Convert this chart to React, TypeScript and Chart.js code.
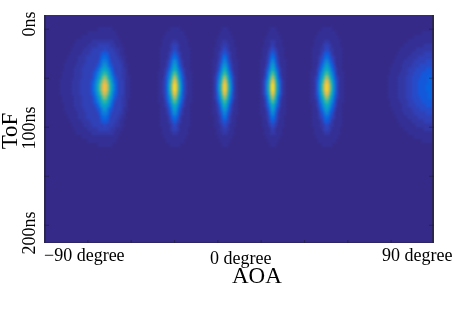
import React, { useEffect, useRef } from "react";
import { Chart, registerables } from "chart.js";

Chart.register(...registerables);

const COLUMN_COUNT = 195;
const ROW_COUNT = 57;
const FIRST_ROW = 3;
const NS_MAX = 200;
const FONT = '"Liberation Serif", "Times New Roman", serif';

// Parula colour levels, index = base-36 digit in the lobe tables.
const levelColors = [
  "#352a87", "#353094", "#3438a5", "#3140b6", "#284bc8", "#1458da", "#0864e0", "#0a70df", "#107ada",
  "#1485d4", "#108ed2", "#0998d1", "#06a0cd", "#06a4ca", "#07a9c2", "#0faeb9", "#1db3af", "#2eb7a4",
  "#38b99e", "#4dbc92", "#65be86", "#7cbf7b", "#92bf73", "#9cbf6f", "#aebe67", "#c0bc60", "#d1bb59",
  "#e1b952", "#e9b94e", "#f8bb44", "#ffc337", "#fcce2e", "#f7d826", "#f5de21", "#f5eb18", "#f9fb0e",
];

const lobeStarts = [8, 56, 83, 107, 132, 172];

const lobeA = [
  "000000000000000000011111110000000000",
  "000000000000001111111111111100000000",
  "000000000001111111111111111110000000",
  "000000001111111122222222222111000000",
  "000000011111112222233333322211100000",
  "000000111111222233333343333222110000",
  "000001111112222333334555433322110000",
  "000011111222233333335676533332211000",
  "000111111222233333346888643333221000",
  "0011111122223333334579b9754333321100",
  "00111112222333333457aceca75333322100",
  "01111112222333334579cgigc96433322100",
  "0111111222233333468bfkmkfb8543322110",
  "111111222233333457aejoroje9653332110",
  "111111222233333468bglrurlfb753332110",
  "111111222233333468bglrurlfb753332110",
  "111111222233333457aejoroje9653332110",
  "0111111222233333468bfkmkfb8543322110",
  "01111112222333334579cgigc96433322100",
  "00111112222333333457aceca75333322100",
  "0011111122223333334579b9754333321100",
  "000111111222233333346888643333221000",
  "000011111222233333335676533332211000",
  "000001111112222333334555433322110000",
  "000000111111222233333343333222110000",
  "000000011111112222233333322211100000",
  "000000001111111122222222222111000000",
  "000000000001111111111111111110000000",
  "000000000000001111111111111100000000",
  "000000000000000000011111110000000000",
];

const lobeB = [
  "0000000111110000000",
  "0000011111111100000",
  "0000111111111110000",
  "0001111122211111000",
  "0001111233321111000",
  "0011111234321111100",
  "0011112346432111100",
  "0011112467642111100",
  "001112358a853211100",
  "00111246aca64211100",
  "00112358cfc85321100",
  "0111247agkga7421110",
  "0111358dkpkd8531110",
  "011235agouoga532110",
  "011236biryrib632110",
  "011236biryrib632110",
  "011235agouoga532110",
  "0111358dkpkd8531110",
  "0111247agkga7421110",
  "00112358cfc85321100",
  "00111246aca64211100",
  "001112358a853211100",
  "0011112467642111100",
  "0011112346432111100",
  "0011111234321111100",
  "0001111233321111000",
  "0001111122211111000",
  "0000111111111110000",
  "0000011111111100000",
  "0000000111110000000",
];

const lobeC = [
  "000000111000000",
  "000001111100000",
  "000011111110000",
  "000111222111000",
  "000112232211000",
  "001112343211100",
  "001123454321100",
  "001123676321100",
  "011134797431110",
  "0112369b9632110",
  "011247cfc742110",
  "011369fjf963110",
  "01247cjojc74210",
  "01249entne94210",
  "0125agqwqga5210",
  "0125agqwqga5210",
  "01249entne94210",
  "01247cjojc74210",
  "011369fjf963110",
  "011247cfc742110",
  "0112369b9632110",
  "011134797431110",
  "001123676321100",
  "001123454321100",
  "001112343211100",
  "000112232211000",
  "000111222111000",
  "000011111110000",
  "000001111100000",
  "000000111000000",
];

const lobeD = [
  "000000111000000",
  "000001111100000",
  "000011111110000",
  "000111222111000",
  "000111232111000",
  "001112343211100",
  "001113464311100",
  "001123676321100",
  "0111247a7421110",
  "0111359c9531110",
  "011247bfb742110",
  "011259fkf952110",
  "01136bjpjb63110",
  "01248enune84210",
  "01249fqyqf94210",
  "01249fqyqf94210",
  "01248enune84210",
  "01136bjpjb63110",
  "011259fkf952110",
  "011247bfb742110",
  "0111359c9531110",
  "0111247a7421110",
  "001123676321100",
  "001113464311100",
  "001112343211100",
  "000111232111000",
  "000111222111000",
  "000011111110000",
  "000001111100000",
  "000000111000000",
];

const lobeE = [
  "0000000111110000000",
  "0000011111111100000",
  "0000111111111110000",
  "0001111122211111000",
  "0001111233321111000",
  "0011112234322111100",
  "0011112355532111100",
  "0011123467643211100",
  "0011124589854211100",
  "00111357aca75311100",
  "00112469dfd96421100",
  "0111258bgjgb8521110",
  "011236aekokea632110",
  "011247chptphc742110",
  "011248dksxskd842110",
  "011248dksxskd842110",
  "011247chptphc742110",
  "011236aekokea632110",
  "0111258bgjgb8521110",
  "00112469dfd96421100",
  "00111357aca75311100",
  "0011124589854211100",
  "0011123467643211100",
  "0011112355532111100",
  "0011112234322111100",
  "0001111233321111000",
  "0001111122211111000",
  "0000111111111110000",
  "0000011111111100000",
  "0000000111110000000",
];

const lobeF = [
  "00000000000000000000000",
  "00000000000000000111111",
  "00000000000001111111111",
  "00000000001111111111111",
  "00000000111111111122222",
  "00000011111111222222222",
  "00000111111122222233333",
  "00001111112222233333333",
  "00011111222223333334444",
  "00111112222233334444444",
  "01111112223333444445555",
  "01111122223334444555555",
  "11111222233344445555666",
  "11111222233344455555666",
  "11111222233344455556666",
  "11111222233344455556666",
  "11111222233344455555666",
  "11111222233344445555666",
  "01111122223334444555555",
  "01111112223333444445555",
  "00111112222233334444444",
  "00011111222223333334444",
  "00001111112222233333333",
  "00000111111122222233333",
  "00000011111111222222222",
  "00000000111111111122222",
  "00000000001111111111111",
  "00000000000001111111111",
  "00000000000000000111111",
  "00000000000000000000000",
];

const lobes = [lobeA, lobeB, lobeC, lobeD, lobeE, lobeF];

const xTickDegrees = [-70, -50, -30, -10, 10, 30, 50, 70];
const yTickNs = [12, 55, 98, 141, 184];

const xTickLabels = ["\u221290 degree", "0 degree", "90 degree"];
const yTickLabels = ["0ns", "100ns", "200ns"];
const xTitle = "AOA";
const yTitle = "ToF";

function buildDatasets() {
  const rowNs = NS_MAX / ROW_COUNT;
  const rowsUsed = lobeA.length;
  const sets: any[] = [];
  for (let r = 0; r < rowsUsed; r++) {
    const data: any[] = new Array(COLUMN_COUNT).fill(null);
    const colors: string[] = new Array(COLUMN_COUNT).fill(levelColors[0]);
    lobes.forEach((lobe, li) => {
      const row = lobe[r];
      for (let i = 0; i < row.length; i++) {
        const level = parseInt(row[i], 36);
        if (level > 0) {
          const c = lobeStarts[li] + i;
          data[c] = [(FIRST_ROW + r) * rowNs, (FIRST_ROW + r + 1) * rowNs];
          colors[c] = levelColors[level];
        }
      }
    });
    sets.push({ data, backgroundColor: colors, borderWidth: 0, barPercentage: 1, categoryPercentage: 1, grouped: false });
  }
  return sets;
}

const framePlugin = {
  id: "frameAndText",
  beforeDatasetsDraw(chart: any) {
    const { ctx, chartArea: a } = chart;
    ctx.save();
    ctx.fillStyle = levelColors[0];
    ctx.fillRect(a.left, a.top, a.right - a.left, a.bottom - a.top);
    ctx.restore();
  },
  afterDatasetsDraw(chart: any) {
    const { ctx, chartArea: a, canvas } = chart;
    const w = a.right - a.left;
    const h = a.bottom - a.top;
    ctx.save();
    ctx.beginPath();
    ctx.rect(a.left, a.top, w, h);
    ctx.clip();
    ctx.filter = "blur(1.1px)";
    ctx.drawImage(canvas, a.left, a.top, w, h, a.left, a.top, w, h);
    ctx.restore();
  },
  afterDraw(chart: any) {
    const { ctx, chartArea: a, scales } = chart;
    ctx.save();
    // frame
    ctx.fillStyle = "#2a2650";
    ctx.fillRect(a.left, a.top, 2, a.bottom - a.top);
    ctx.fillRect(a.right - 2, a.top, 2, a.bottom - a.top);
    ctx.fillStyle = "rgba(40,35,80,0.6)";
    ctx.fillRect(a.left, a.bottom - 1, a.right - a.left, 1);
    // ticks
    ctx.fillStyle = "rgba(30,30,60,0.55)";
    xTickDegrees.forEach((d) => ctx.fillRect(scales.deg.getPixelForValue(d), a.bottom - 3, 1, 3));
    yTickNs.forEach((n) => {
      const y = scales.y.getPixelForValue(n);
      ctx.fillRect(a.right - 5, y, 5, 1);
      ctx.fillRect(a.left, y, 5, 1);
    });
    // text
    ctx.fillStyle = "#000";
    ctx.textBaseline = "alphabetic";
    ctx.textAlign = "left";
    ctx.font = `18px ${FONT}`;
    ctx.fillText(xTickLabels[0], scales.deg.getPixelForValue(-90), a.bottom + 18);
    ctx.fillText(xTickLabels[1], scales.deg.getPixelForValue(0) - 29, a.bottom + 21);
    ctx.fillText(xTickLabels[2], scales.deg.getPixelForValue(90) - 52, a.bottom + 18);
    ctx.font = `23px ${FONT}`;
    ctx.fillText(xTitle, scales.deg.getPixelForValue(0) - 7, a.bottom + 40);
    ctx.textAlign = "center";
    const rotated = (t: string, x: number, y: number) => {
      ctx.save();
      ctx.translate(x, y);
      ctx.rotate(-Math.PI / 2);
      ctx.fillText(t, 0, 0);
      ctx.restore();
    };
    rotated(yTitle, 17, a.top + 116);
    ctx.font = `18px ${FONT}`;
    rotated(yTickLabels[0], 35, scales.y.getPixelForValue(0) + 9);
    rotated(yTickLabels[1], 35, scales.y.getPixelForValue(100) - 1);
    rotated(yTickLabels[2], 35, scales.y.getPixelForValue(200) - 10);
    ctx.restore();
  },
};

export default function App() {
  const ref = useRef<HTMLCanvasElement>(null);
  useEffect(() => {
    const chart = new Chart(ref.current as HTMLCanvasElement, {
      type: "bar",
      data: {
        labels: Array.from({ length: COLUMN_COUNT }, (_, i) => String(i)),
        datasets: buildDatasets(),
      },
      options: {
        animation: false,
        responsive: false,
        devicePixelRatio: 1,
        layout: { padding: { left: 44, top: 15, right: 20, bottom: 67 } },
        plugins: { legend: { display: false }, tooltip: { enabled: false } },
        scales: {
          x: { type: "category", display: false, offset: true },
          y: { type: "linear", display: false, reverse: true, min: 0, max: NS_MAX },
          deg: { type: "linear", axis: "x", display: false, offset: false, min: -90, max: 90 },
        },
      } as any,
      plugins: [framePlugin as any],
    });
    return () => chart.destroy();
  }, []);
  return (
    <canvas
      ref={ref}
      width={454}
      height={310}
      style={{ position: "absolute", left: 0, top: 0, display: "block" }}
    />
  );
}
